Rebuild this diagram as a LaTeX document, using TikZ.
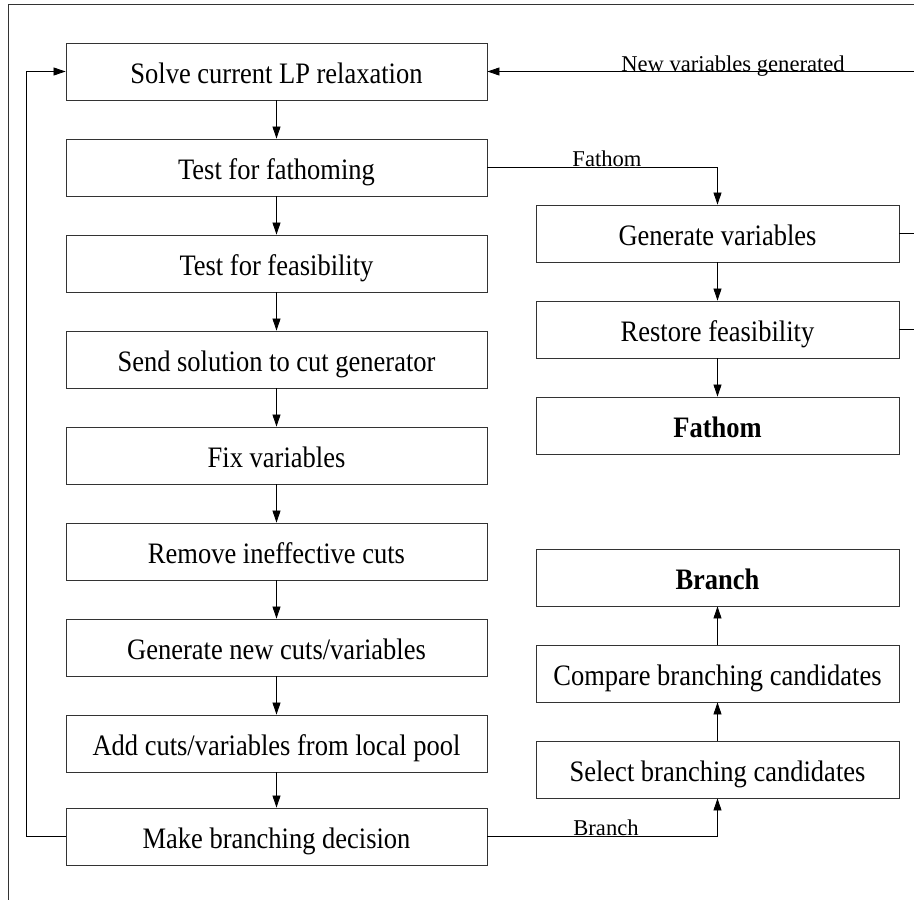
\documentclass[tikz,border=0pt]{standalone}
\usepackage{fontspec}
\setmainfont{Liberation Serif}
\usetikzlibrary{arrows.meta}
\newcommand\vst[1]{\scalebox{1}[1.12]{#1}}
\begin{document}
\begin{tikzpicture}[x=1pt,y=-1pt,
  box/.style={draw=black!80, line width=0.9pt, rectangle, inner sep=0pt,
    minimum height=57pt, text height=25pt, text depth=2pt,
    font=\fontsize{26.5}{30}\selectfont},
  lbox/.style={box, minimum width=421pt},
  rbox/.style={box, minimum width=363pt},
  conn/.style={line width=0.8pt, black},
  arr/.style={conn, -{Triangle[length=12pt,width=8pt]}},
  lab/.style={anchor=base, inner sep=0pt, font=\fontsize{22.6}{26}\selectfont}]
\useasboundingbox (0,0) rectangle (914,900);
\fill[white] (0,0) rectangle (914,900);
\clip (0,0) rectangle (914,900);
\draw[line width=0.9pt, black!80] (8,4) rectangle (1000,1000);
% left column
\node[lbox] (solve) at (276.5,71.5) {\vst{Solve current LP relaxation}};
\node[lbox] (tf)    at (276.5,167.5) {\vst{Test for fathoming}};
\node[lbox] (tfe)   at (276.5,263.5) {\vst{Test for feasibility}};
\node[lbox] (send)  at (276.5,359.5) {\vst{Send solution to cut generator}};
\node[lbox] (fix)   at (276.5,455.5) {\vst{Fix variables}};
\node[lbox] (rem)   at (276.5,551.5) {\vst{Remove ineffective cuts}};
\node[lbox] (gen)   at (276.5,647.5) {\vst{Generate new cuts/variables}};
\node[lbox] (add)   at (276.5,743.5) {\vst{Add cuts/variables from local pool}};
\node[lbox] (mb)    at (276.5,836.5) {\vst{Make branching decision}};
% right column
\node[rbox] (gv) at (717.5,233.5) {\vst{Generate variables}};
\node[rbox] (rf) at (717.5,329.5) {\vst{Restore feasibility}};
\node[rbox] (fa) at (717.5,425.5) {\vst{\bfseries Fathom}};
\node[rbox] (br) at (717.5,577.5) {\vst{\bfseries Branch}};
\node[rbox] (cmp) at (717.5,673.5) {\vst{Compare branching candidates}};
\node[rbox] (sel) at (717.5,769.5) {\vst{Select branching candidates}};
% vertical arrows left
\draw[arr] (solve) -- (tf);
\draw[arr] (tf) -- (tfe);
\draw[arr] (tfe) -- (send);
\draw[arr] (send) -- (fix);
\draw[arr] (fix) -- (rem);
\draw[arr] (rem) -- (gen);
\draw[arr] (gen) -- (add);
\draw[arr] (add) -- (mb);
% right arrows
\draw[arr] (gv) -- (rf);
\draw[arr] (rf) -- (fa);
\draw[arr] (sel) -- (cmp);
\draw[arr] (cmp) -- (br);
% loops
\coordinate (lc) at (26,836.5);
\draw[arr] (mb.west) -- (lc) |- (solve.west);
\coordinate (rc) at (950,233.5);
\coordinate (rc2) at (950,329.5);
\draw[arr] (gv.east) -- (rc) |- (solve.east);
\draw[conn] (rf.east) -- (rc2);
\draw[arr] (tf.east) -| (gv.north);
\draw[arr] (mb.east) -| (sel.south);
% labels
\node[lab] (l1) at (733,71) {New variables generated};
\node[lab] (l2) at (607,166.5) {Fathom};
\node[lab] (l3) at (606,835.5) {Branch};
\end{tikzpicture}
\end{document}
